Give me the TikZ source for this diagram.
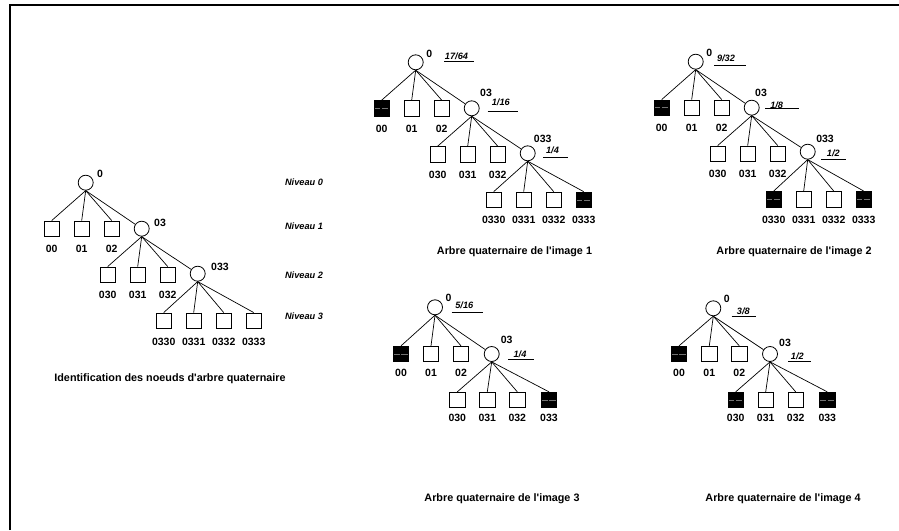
\documentclass[tikz,border=0pt]{standalone}
\usepackage{fontspec}
\setmainfont{Liberation Sans}[Ligatures=TeXOff]
\usepackage{tikz}

\tikzset{
  noeud/.style={draw, circle, minimum size=15pt, inner sep=0pt, line width=0.8pt},
  vide/.style={draw, minimum size=15.5pt, inner sep=0pt, line width=0.8pt},
  plein/.style={vide, fill=black, path picture={\draw[black!55, line width=0.5pt, dash pattern=on 6.5pt off 1.5pt]
      (path picture bounding box.west) -- (path picture bounding box.east);}},
  etiq/.style={inner sep=0pt, font=\bfseries\fontsize{10.5}{12}\selectfont},
  frac/.style={inner sep=0pt, font=\bfseries\itshape\fontsize{9.2}{11}\selectfont},
  titre/.style={inner sep=0pt, font=\bfseries\fontsize{10.8}{13}\selectfont},
  arete/.style={line width=0.7pt}
}

\begin{document}
\begin{tikzpicture}[x=1pt, y=-1pt]
  \useasboundingbox (0,0) rectangle (899,530);
  % frame
  \draw[line width=2pt] (10,530) -- (10,5) -- (899,5);

  % identification tree
  \begin{scope}[shift={(85.7,182.7)}]
    \node[noeud] (a0) at (0,0) {};
    \node[etiq] (a0l) at (14.3,-8.7) {0};
    \node[noeud] (a03) at (56,46) {};
    \node[etiq] (a03l) at (74.3,40.6) {03};
    \node[noeud] (a033) at (112,91) {};
    \node[etiq] (a033l) at (134.3,84.3) {033};
    \foreach \i/\x in {0/-34,1/-4,2/26} {
      \node[vide] (a0\i) at (\x,46) {};
      \node[etiq] (a0\i l) at (\x,66.5) {0\i};
      \draw[arete] (a0.south) -- (a0\i.north);
    }
    \draw[arete] (a0.south) -- (a03);
    \foreach \i/\x in {0/22,1/52,2/82} {
      \node[vide] (a03\i) at (\x,92) {};
      \node[etiq] (a03\i l) at (\x,112.5) {03\i};
      \draw[arete] (a03.south) -- (a03\i.north);
    }
    \draw[arete] (a03.south) -- (a033);
    \foreach \i/\x in {0/78,1/108,2/138,3/168} {
      \node[vide] (a033\i) at (\x,138) {};
      \node[etiq] (a033\i l) at (\x,159) {033\i};
      \draw[arete] (a033.south) -- (a033\i.north);
    }
  \end{scope}
  \foreach \n/\y in {0/182.7,1/226.7,2/275,3/316}
    \node[frac] (niv\n) at (304,\y) {Niveau \n};
  \node[titre] (cap0) at (170,379) {Identification des noeuds d'arbre quaternaire};

  % image 1
  \begin{scope}[shift={(415.7,62.3)}]
    \node[noeud] (b0) at (0,0) {};
    \node[etiq] (b0l) at (13.6,-8.3) {0};
    \node[frac] (b0f) at (40.8,-5.6) {17/64};
    \draw[arete] (28.6,-1.3) -- (58.6,-1.3);
    \node[noeud] (b03) at (56,46) {};
    \node[etiq] (b03l) at (70.3,31) {03};
    \node[frac] (b03f) at (85.1,40.4) {1/16};
    \draw[arete] (72,48.7) -- (102,48.7);
    \node[noeud] (b033) at (112,91) {};
    \node[etiq] (b033l) at (127,77) {033};
    \node[frac] (b033f) at (136.8,87.7) {1/4};
    \draw[arete] (127.6,95.4) -- (152.6,95.4);
    \foreach \i/\x/\s in {0/-34/plein,1/-4/vide,2/26/vide} {
      \node[\s] (b0\i) at (\x,46) {};
      \node[etiq] (b0\i l) at (\x,66.5) {0\i};
      \draw[arete] (b0.south) -- (b0\i.north);
    }
    \draw[arete] (b0.south) -- (b03);
    \foreach \i/\x in {0/22,1/52,2/82} {
      \node[vide] (b03\i) at (\x,92) {};
      \node[etiq] (b03\i l) at (\x,112.5) {03\i};
      \draw[arete] (b03.south) -- (b03\i.north);
    }
    \draw[arete] (b03.south) -- (b033);
    \foreach \i/\x/\s in {0/78/vide,1/108/vide,2/138/vide,3/168/plein} {
      \node[\s] (b033\i) at (\x,137.5) {};
      \node[etiq] (b033\i l) at (\x,158) {033\i};
      \draw[arete] (b033.south) -- (b033\i.north);
    }
  \end{scope}
  \node[titre] (cap1) at (514.5,252) {Arbre quaternaire de l'image 1};

  % image 2
  \begin{scope}[shift={(695.7,61.7)}]
    \node[noeud] (c0) at (0,0) {};
    \node[etiq] (c0l) at (13.6,-8.4) {0};
    \node[frac] (c0f) at (30.3,-3.4) {9/32};
    \draw[arete] (18.3,3.3) -- (50.3,3.3);
    \node[noeud] (c03) at (56,46) {};
    \node[etiq] (c03l) at (65.3,31.6) {03};
    \node[frac] (c03f) at (81,43.3) {1/8};
    \draw[arete] (69.3,46.6) -- (103.3,46.6);
    \node[noeud] (c033) at (112,90) {};
    \node[etiq] (c033l) at (129.3,77.3) {033};
    \node[frac] (c033f) at (137.6,91.6) {1/2};
    \draw[arete] (125.3,97.3) -- (150.3,97.3);
    \foreach \i/\x/\s in {0/-34/plein,1/-4/vide,2/26/vide} {
      \node[\s] (c0\i) at (\x,46) {};
      \node[etiq] (c0\i l) at (\x,66.5) {0\i};
      \draw[arete] (c0.south) -- (c0\i.north);
    }
    \draw[arete] (c0.south) -- (c03);
    \foreach \i/\x in {0/22,1/52,2/82} {
      \node[vide] (c03\i) at (\x,92) {};
      \node[etiq] (c03\i l) at (\x,112.5) {03\i};
      \draw[arete] (c03.south) -- (c03\i.north);
    }
    \draw[arete] (c03.south) -- (c033);
    \foreach \i/\x/\s in {0/78/plein,1/108/vide,2/138/vide,3/168/plein} {
      \node[\s] (c033\i) at (\x,137.5) {};
      \node[etiq] (c033\i l) at (\x,158) {033\i};
      \draw[arete] (c033.south) -- (c033\i.north);
    }
  \end{scope}
  \node[titre] (cap2) at (794,252) {Arbre quaternaire de l'image 2};

  % image 3
  \begin{scope}[shift={(435,307.3)}]
    \node[noeud] (d0) at (0,0) {};
    \node[etiq] (d0l) at (13.6,-9) {0};
    \node[frac] (d0f) at (29.3,-2.3) {5/16};
    \draw[arete] (16.7,5) -- (47.7,5);
    \node[noeud] (d03) at (56.7,46.7) {};
    \node[etiq] (d03l) at (71.7,32.7) {03};
    \node[frac] (d03f) at (85,47) {1/4};
    \draw[arete] (73.3,52) -- (99.3,52);
    \foreach \i/\x/\s in {0/-34/plein,1/-4/vide,2/26/vide} {
      \node[\s] (d0\i) at (\x,46.7) {};
      \node[etiq] (d0\i l) at (\x,65.4) {0\i};
      \draw[arete] (d0.south) -- (d0\i.north);
    }
    \draw[arete] (d0.south) -- (d03);
    \foreach \i/\x/\s in {0/22.3/vide,1/52.3/vide,2/82.3/vide,3/114/plein} {
      \node[\s] (d03\i) at (\x,92.7) {};
      \node[etiq] (d03\i l) at (\x,111) {03\i};
      \draw[arete] (d03.south) -- (d03\i.north);
    }
  \end{scope}
  \node[titre] (cap3) at (502,499) {Arbre quaternaire de l'image 3};

  % image 4
  \begin{scope}[shift={(713.3,308.3)}]
    \node[noeud] (e0) at (0,0) {};
    \node[etiq] (e0l) at (13.6,-9) {0};
    \node[frac] (e0f) at (30,3.4) {3/8};
    \draw[arete] (18.4,8.4) -- (42.7,8.4);
    \node[noeud] (e03) at (56.7,45.7) {};
    \node[etiq] (e03l) at (71.7,34.4) {03};
    \node[frac] (e03f) at (84,48.4) {1/2};
    \draw[arete] (75,52.7) -- (97.4,52.7);
    \foreach \i/\x/\s in {0/-34.3/plein,1/-4/vide,2/26/vide} {
      \node[\s] (e0\i) at (\x,45.7) {};
      \node[etiq] (e0\i l) at (\x,64.4) {0\i};
      \draw[arete] (e0.south) -- (e0\i.north);
    }
    \draw[arete] (e0.south) -- (e03);
    \foreach \i/\x/\s in {0/22.4/plein,1/52.4/vide,2/82.4/vide,3/114/plein} {
      \node[\s] (e03\i) at (\x,91.7) {};
      \node[etiq] (e03\i l) at (\x,110) {03\i};
      \draw[arete] (e03.south) -- (e03\i.north);
    }
  \end{scope}
  \node[titre] (cap4) at (783,499) {Arbre quaternaire de l'image 4};
\end{tikzpicture}
\end{document}
